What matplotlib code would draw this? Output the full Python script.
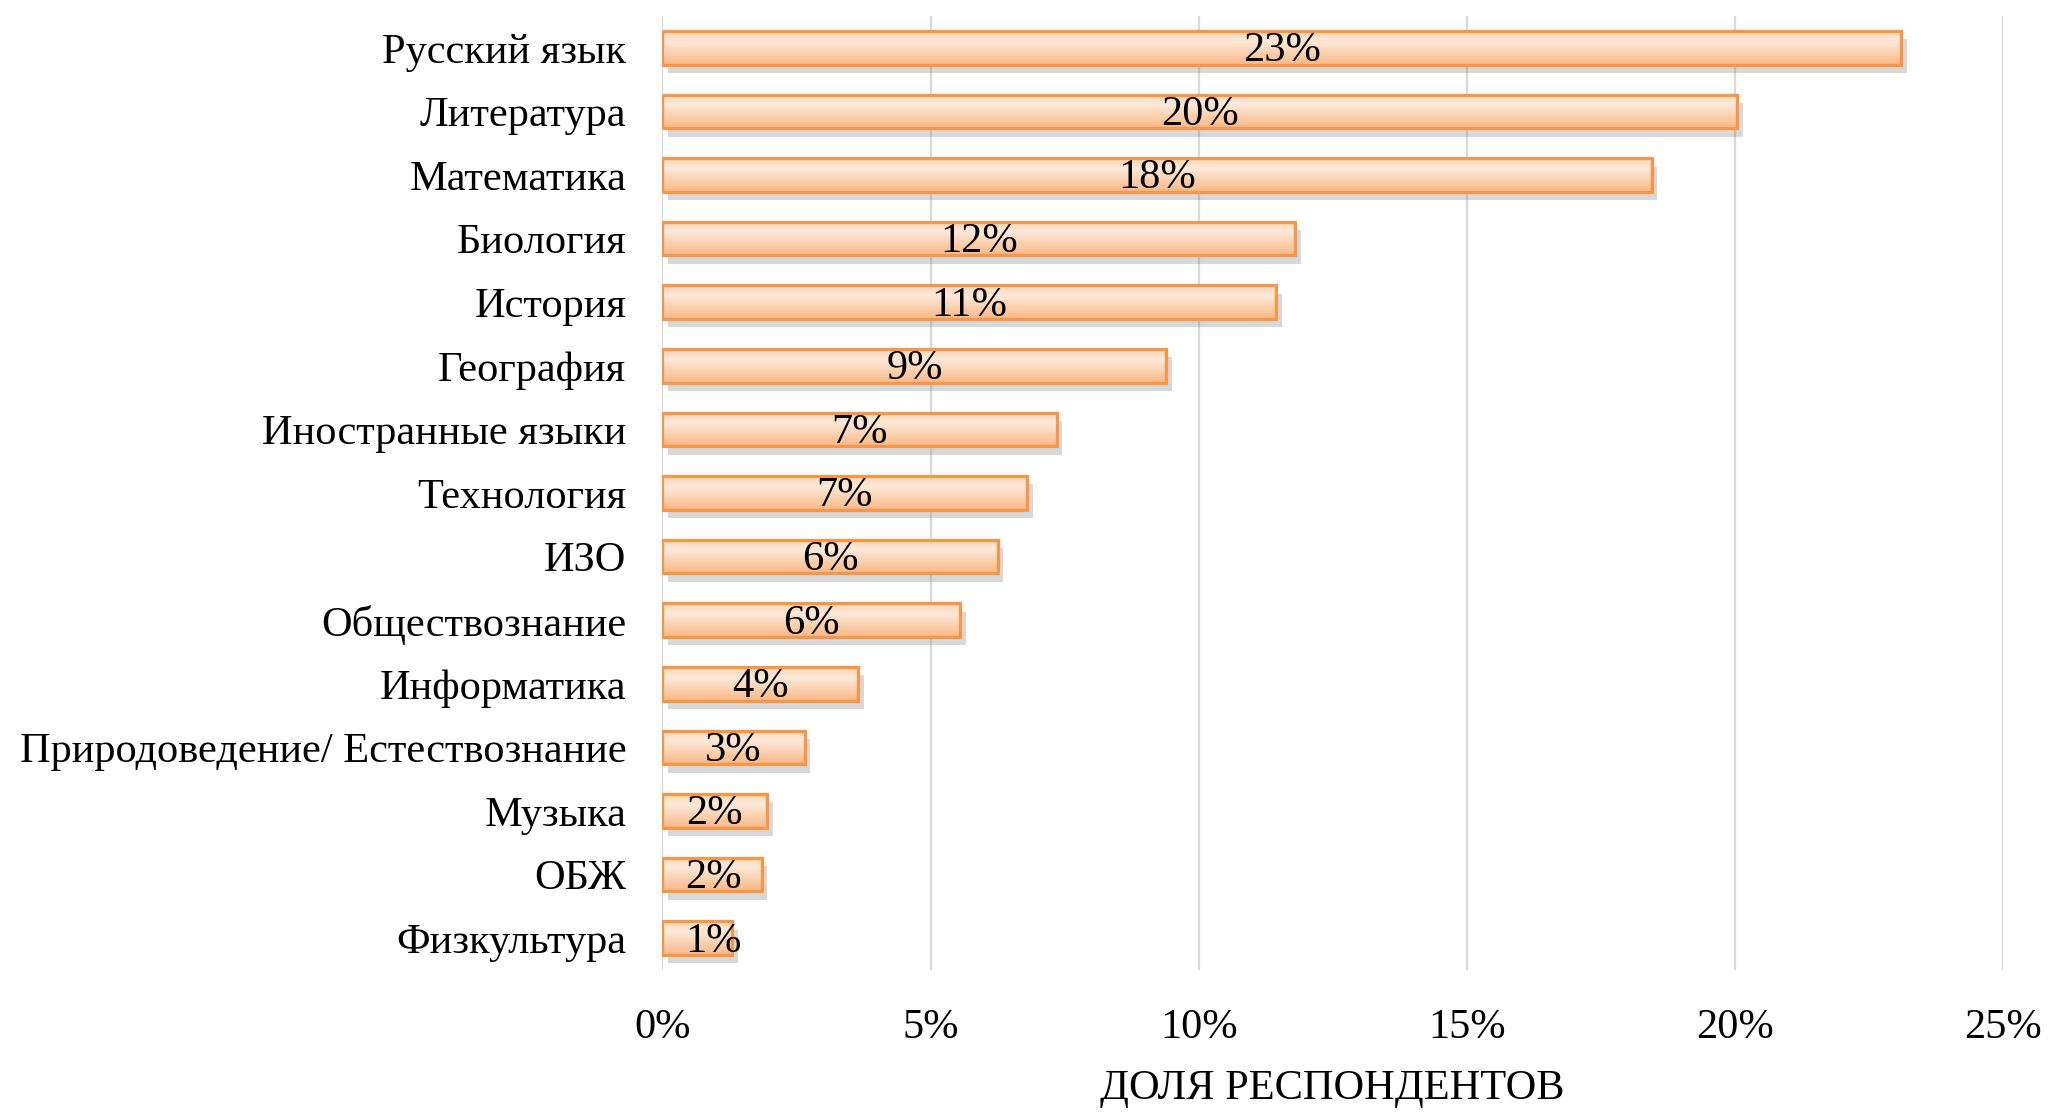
import numpy as np
import matplotlib
matplotlib.use("Agg")
import matplotlib.pyplot as plt
import matplotlib.patheffects as pe
from matplotlib.colors import LinearSegmentedColormap
from matplotlib.patches import Rectangle

plt.rcParams['font.family'] = ['Liberation Serif', 'DejaVu Serif']

subjects = ['Русский язык', 'Литература', 'Математика', 'Биология', 'История',
            'География', 'Иностранные языки', 'Технология', 'ИЗО', 'Обществознание',
            'Информатика', 'Природоведение/ Естествознание', 'Музыка', 'ОБЖ', 'Физкультура']
shares = [23.1, 20.05, 18.45, 11.8, 11.45, 9.4, 7.35, 6.8, 6.25, 5.55,
          3.65, 2.65, 1.95, 1.85, 1.3]
x_ticks = [0, 5, 10, 15, 20, 25]
x_title = 'ДОЛЯ РЕСПОНДЕНТОВ'

fs = 30.5
edge = '#f79646'
grad = LinearSegmentedColormap.from_list(
    'peach', [(0.0, '#fcd5b5'), (0.3, '#fde9da'), (1.0, '#f9b985')])

fig = plt.figure(figsize=(20.49, 11.14), dpi=100)
ax = fig.add_axes([0.3233, 0.1293, 0.6542, 0.8563])

y = np.arange(len(subjects))
h = 0.53
bars = ax.barh(y, shares, height=h, color='#f9b985', edgecolor='none', zorder=2,
               path_effects=[pe.SimplePatchShadow(offset=(4, -6), shadow_rgbFace='#808080', alpha=0.3),
                             pe.Normal()])

g = np.linspace(0, 1, 64).reshape(-1, 1)
for b, yi, v in zip(bars, y, shares):
    ax.imshow(g, cmap=grad, aspect='auto', origin='upper',
              extent=(0, v, yi + h / 2, yi - h / 2), clip_path=b, zorder=3,
              interpolation='bilinear')
    ax.add_patch(Rectangle((0, yi - h / 2), v, h, fill=False, edgecolor=edge,
                           linewidth=2.3, zorder=4))
    ax.text(max(v / 2, 0.95), yi + 0.05, f'{round(v)}%', ha='center', va='center',
            fontsize=fs, color='black', zorder=5)

ax.set_xlim(0, 25)
ax.set_ylim(len(subjects) - 0.5, -0.5)
ax.set_xticks(x_ticks)
ax.set_xticklabels([f'{t}%' for t in x_ticks])
ax.set_yticks(y)
ax.set_yticklabels(subjects)
ax.tick_params(axis='both', length=0, labelsize=fs)
ax.tick_params(axis='x', pad=28)
ax.tick_params(axis='y', pad=26)
ax.set_xlabel(x_title, fontsize=fs, labelpad=16)

ax.grid(axis='x', color='#d9d9d9', linewidth=1.6, zorder=0)
ax.set_axisbelow(True)
for s in ax.spines.values():
    s.set_visible(False)

fig.savefig('out.png', dpi=100)
